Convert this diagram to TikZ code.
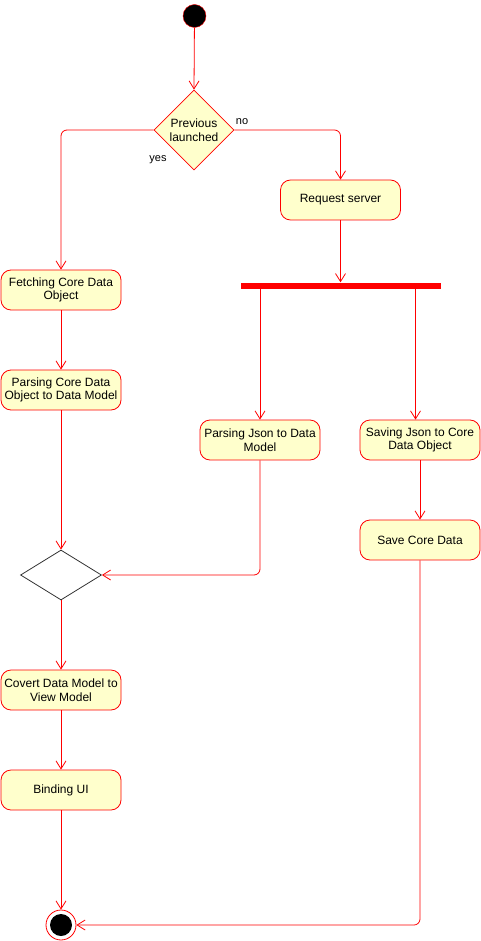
\documentclass[tikz,border=0pt]{standalone}
\usepackage{fontspec}
\setmainfont{Liberation Sans}
\usetikzlibrary{shapes.geometric,arrows.meta}
\definecolor{umlred}{RGB}{255,0,0}
\definecolor{umlyellow}{RGB}{255,255,204}

\begin{document}
\begin{tikzpicture}[x=1pt, y=-1pt,
  action/.style={draw=umlred, fill=umlyellow, line width=0.8pt, rounded corners=10pt, minimum width=120pt, minimum height=40pt, inner sep=1pt, align=center, font=\fontsize{12}{13.5}\selectfont},
  decision/.style={diamond, draw=umlred, fill=umlyellow, line width=0.8pt, minimum width=80pt, minimum height=80pt, inner sep=0pt, align=center, font=\fontsize{12}{13.5}\selectfont},
  mergebox/.style={diamond, draw=black!80, fill=white, line width=0.8pt, minimum width=81pt, minimum height=50pt, inner sep=0pt},
  forkbar/.style={fill=umlred, minimum width=200pt, minimum height=6pt, inner sep=0pt},
  startdot/.style={circle, draw=umlred, fill=black, minimum size=23pt, inner sep=0pt},
  endring/.style={circle, draw=umlred, fill=white, line width=0.8pt, minimum size=30pt, inner sep=0pt},
  enddot/.style={circle, fill=black, minimum size=22pt, inner sep=0pt},
  guard/.style={font=\fontsize{11}{12}\selectfont},
  flow/.style={draw=umlred, line width=0.8pt, rounded corners=6pt, -{Straight Barb[length=8pt,width=10pt]}}
]
\useasboundingbox (0,0) rectangle (481,941);

% Start and first decision
\node[startdot] (start) at (194.5,16) {};
\node[decision] (launched) at (194,130) {Previous\\launched};
\node[guard] (no) at (242,122) {no};
\node[guard] (yes) at (158,160) {yes};

% Left column: cached data
\node[action] (fetch) at (61,290) {Fetching Core Data\\Object};
\node[action] (parsecd) at (61,390) {Parsing Core Data\\Object to Data Model};
\node[mergebox] (merge) at (61,575) {};
\node[action] (covert) at (61,690) {Covert Data Model to\\View Model};
\node[action] (binding) at (61,790) {Binding UI};
\node[endring] (end) at (61,925) {};
\node[enddot] (enddot) at (end) {};

% Right side: server request and fork
\node[action] (request) at (340.5,200) {Request server};
\node[forkbar] (fork) at (340.5,285.5) {};
\coordinate (forkR) at (415.5,288.5); % right branch leaves the bar off centre
\node[action] (parsejson) at (260,440) {Parsing Json to Data\\Model};
\node[action] (saving) at (420,440) {Saving Json to Core\\Data Object};
\node[action] (savecd) at (420,540) {Save Core Data};

% Connectors
\draw[flow] (start) -- (launched.north);
\draw[flow] (launched.west) -| (fetch.north);
\draw[flow] (launched.east) -| (request.north);
\draw[flow] (fetch) -- (parsecd);
\draw[flow] (parsecd) -- (merge.north);
\draw[flow] (request) -- (fork);
\draw[flow] (parsejson.north |- fork.south) -- (parsejson.north);
\draw[flow] (forkR) -- (forkR |- saving.north);
\draw[flow] (saving) -- (savecd);
\draw[flow] (parsejson.south) |- (merge.east);
\draw[flow] (merge.south) -- (covert.north);
\draw[flow] (covert) -- (binding);
\draw[flow] (binding) -- (end.north);
\draw[flow] (savecd.south) |- (end.east);

\end{tikzpicture}
\end{document}
